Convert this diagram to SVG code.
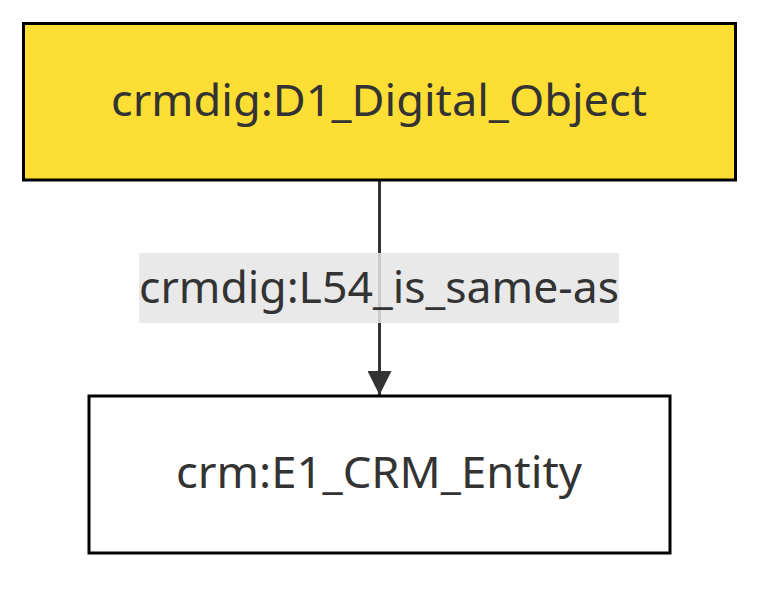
<svg xmlns="http://www.w3.org/2000/svg" width="783" height="594" viewBox="0 0 783 594">
<defs>
<style>
.node rect{stroke:#000;stroke-width:3}
.t{font-family:"Noto Sans","Open Sans","DejaVu Sans",sans-serif;font-size:43px;fill:#333;text-anchor:middle}
.edge{stroke:#333;stroke-width:3;fill:none}
</style>
<marker id="arrow" viewBox="0 0 12 12" refX="12" refY="6" markerWidth="8" markerHeight="8" markerUnits="strokeWidth" orient="auto">
<path d="M0,0 L12,6 L0,12 z" fill="#333"/>
</marker>
</defs>
<rect width="783" height="594" fill="#fff"/>
<g id="connectors">
<path class="edge" d="M379.5,181 L379.5,395" marker-end="url(#arrow)"/>
<rect x="139" y="253" width="480" height="70" fill="#e8e8e8" opacity="0.95"/>
<line x1="379.5" y1="253" x2="379.5" y2="323" stroke="#333" stroke-width="3" opacity="0.1"/>
<text class="t" x="379" y="303" textLength="480" lengthAdjust="spacingAndGlyphs">crmdig:L54_is_same-as</text>
</g>
<g id="node-D1" class="node">
<rect x="23.5" y="23.5" width="712" height="156.5" fill="#fdde34"/>
<text class="t" x="379" y="115.5" textLength="536" lengthAdjust="spacingAndGlyphs">crmdig:D1_Digital_Object</text>
</g>
<g id="node-E1" class="node">
<rect x="89" y="396" width="581" height="157" fill="#fff"/>
<text class="t" x="379" y="488" textLength="406" lengthAdjust="spacingAndGlyphs">crm:E1_CRM_Entity</text>
</g>
</svg>
